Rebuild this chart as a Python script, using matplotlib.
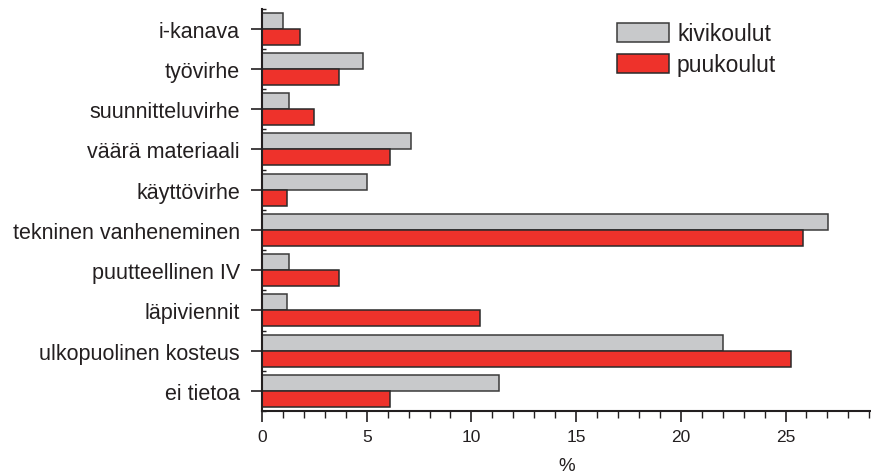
import matplotlib
matplotlib.use("Agg")
import matplotlib.pyplot as plt
import numpy as np
from matplotlib.ticker import MultipleLocator, FixedLocator

categories = ["i-kanava", "työvirhe", "suunnitteluvirhe", "väärä materiaali",
              "käyttövirhe", "tekninen vanheneminen", "puutteellinen IV",
              "läpiviennit", "ulkopuolinen kosteus", "ei tietoa"]
kivikoulut = [1.0, 4.8, 1.3, 7.1, 5.0, 27.05, 1.3, 1.2, 22.0, 11.3]
puukoulut = [1.8, 3.7, 2.5, 6.1, 1.2, 25.85, 3.7, 10.4, 25.25, 6.1]
series_names = ["kivikoulut", "puukoulut"]
xticks = [0, 5, 10, 15, 20, 25]

plt.rcParams['font.family'] = ['Liberation Sans', 'DejaVu Sans']
axc = '#231f20'

fig = plt.figure(figsize=(8.71, 4.77), dpi=100)
ax = fig.add_axes([262/871, 65/477, 609/871, (467.5-65)/477])

n = len(categories)
y = np.arange(n)[::-1].astype(float)
h = 0.4
ax.barh(y + h/2, kivikoulut, height=h, color='#c8c9cb', edgecolor='#3a3a3a',
        linewidth=1.1, label=series_names[0])
ax.barh(y - h/2, puukoulut, height=h, color='#ee322b', edgecolor='#2a2a2a',
        linewidth=1.1, label=series_names[1])

ax.set_xlim(0, 609/20.94)
ax.set_ylim(-0.5, n - 0.5)
ax.set_yticks(y)
ax.set_yticklabels(categories, fontsize=15.5, color=axc)
ax.yaxis.set_minor_locator(FixedLocator(np.arange(n + 1) - 0.5))
ax.set_xticks(xticks)
ax.set_xticklabels([str(t) for t in xticks], fontsize=12.5, color=axc)
ax.xaxis.set_minor_locator(MultipleLocator(1))
ax.tick_params(axis='x', which='major', direction='out', length=8, width=1.2, color=axc, pad=5)
ax.tick_params(axis='x', which='minor', direction='out', length=5, width=1.0, color=axc)
ax.tick_params(axis='y', which='major', direction='out', length=8, width=1.2, color=axc, pad=8)
ax.tick_params(axis='y', which='minor', direction='in', length=3, width=1.0, color=axc)
for s in ['top', 'right']:
    ax.spines[s].set_visible(False)
for s in ['left', 'bottom']:
    ax.spines[s].set_color(axc)
    ax.spines[s].set_linewidth(1.5)
ax.set_xlabel('%', fontsize=13.5, color=axc, labelpad=9)

leg = ax.legend(loc='upper left', bbox_to_anchor=(617/871, 1 - 23/477),
                bbox_transform=fig.transFigure, frameon=False, fontsize=16.5,
                handlelength=2.27, handleheight=0.9, handletextpad=0.35,
                labelspacing=0.35, borderpad=0, borderaxespad=0)
for t in leg.get_texts():
    t.set_color(axc)

fig.savefig('out.png', dpi=100)
